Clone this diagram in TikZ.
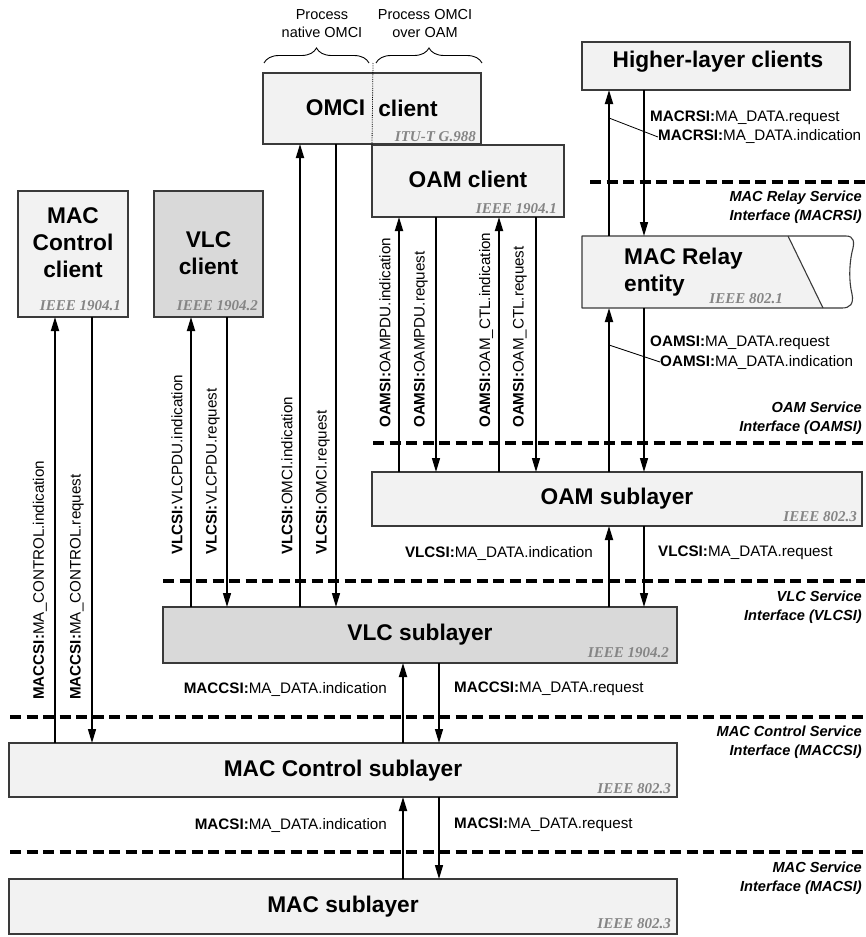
\documentclass[tikz,border=0pt]{standalone}
\usepackage{fontspec}
\setmainfont{Liberation Sans}
\newfontfamily\stdfont{Liberation Serif}
\usetikzlibrary{arrows.meta,decorations.pathreplacing}

\definecolor{boxfill}{HTML}{F2F2F2}
\definecolor{vlcfill}{HTML}{D9D9D9}
\definecolor{edge}{HTML}{3A3A3A}
\definecolor{stdgray}{HTML}{858585}

\tikzset{
  box/.style={draw=edge, line width=1.1pt, fill=boxfill, anchor=north west,
    inner sep=0pt, outer sep=0pt},
  vlcbox/.style={box, fill=vlcfill},
  title/.style={font=\fontsize{22.7pt}{27pt}\selectfont\bfseries, align=center, inner sep=0pt},
  std/.style={font=\stdfont\fontsize{15pt}{18pt}\selectfont\bfseries\itshape,
    text=stdgray, anchor=base east, inner sep=0pt},
  prim/.style={font=\fontsize{15.2pt}{18pt}\selectfont, inner sep=0pt},
  vprim/.style={prim, rotate=90, anchor=west},
  iface/.style={font=\fontsize{14.6pt}{18.5pt}\selectfont\bfseries\itshape,
    align=right, anchor=east, inner sep=0pt},
  note/.style={font=\fontsize{14.5pt}{18pt}\selectfont, align=center, inner sep=0pt},
  sap/.style={line width=4.5pt, dash pattern=on 11pt off 5.5pt},
  ind/.style={line width=1.8pt, -{Triangle[length=14pt,width=8pt]}},
  req/.style={line width=1.4pt, -{Triangle[length=14pt,width=8pt]}},
  leader/.style={line width=0.8pt},
  curly/.style={decorate, decoration={brace, amplitude=15pt}, line width=0.9pt},
}

\begin{document}
\begin{tikzpicture}[x=1pt,y=-1pt]
\useasboundingbox (0,0) rectangle (865,937);
\fill[white] (0,0) rectangle (865,937);

% columns of the vertical primitives
\coordinate (cMCi) at (55,0);
\coordinate (cMCr) at (92,0);
\coordinate (cVi) at (191,0);
\coordinate (cVr) at (227,0);
\coordinate (cOi) at (300,0);
\coordinate (cOr) at (336,0);
\coordinate (cPi) at (399,0);
\coordinate (cPr) at (436,0);
\coordinate (cCi) at (499,0);
\coordinate (cCr) at (536,0);
\coordinate (cHi) at (609,0);
\coordinate (cHr) at (644,0);
\coordinate (cLi) at (403,0);
\coordinate (cLr) at (439,0);

% service interfaces
\draw[sap] (590,182) -- (865,182);
\draw[sap] (373,443) -- (865,443);
\draw[sap] (163,581) -- (865,581);
\draw[sap] (10,717) -- (865,717);
\draw[sap] (10,852) -- (865,852);

\node[iface] (macrsi) at (862,207) {MAC Relay Service\\Interface (MACRSI)};
\node[iface] (oamsi) at (862,418) {OAM Service\\Interface (OAMSI)};
\node[iface] (vlcsi) at (862,607) {VLC Service\\Interface (VLCSI)};
\node[iface] (maccsi) at (862,742) {MAC Control Service\\Interface (MACCSI)};
\node[iface] (macsi) at (862,878) {MAC Service\\Interface (MACSI)};

% OMCI processing options
\node[note] (native) at (322,24) {Process\\native OMCI};
\node[note] (overoam) at (425,24) {Process OMCI\\over OAM};
\draw[curly] (264,63) -- (369,63);
\draw[curly] (376,63) -- (482,63);

% clients
\node[box, minimum width=110pt, minimum height=126pt] (mccl) at (18,191) {};
\node[title] at (73,243) {MAC\\Control\\client};
\node[std] at (121,310) {IEEE 1904.1};

\node[vlcbox, minimum width=109pt, minimum height=126pt] (vlccl) at (154,191) {};
\node[title] at (208.5,253) {VLC\\client};
\node[std] at (258,310) {IEEE 1904.2};

\node[box, minimum width=218pt, minimum height=71pt] (omci) at (263,73) {};
\node[title] at (335.5,108) {OMCI};
\node[title] at (408,108) {client};
\node[std] at (476,141) {ITU-T G.988};

\node[box, minimum width=192pt, minimum height=72pt] (oamcl) at (372,145) {};
\node[title] at (468,179) {OAM client};
\node[std] at (557,213) {IEEE 1904.1};

\draw[densely dotted, line width=0.8pt] (373,63) -- (oamcl.north west);

\node[box, minimum width=268pt, minimum height=48pt] (hlc) at (582,42) {};
\node[title] at (718,62) {Higher-layer clients};

% MAC Relay entity, cut open on its right side
\node[anchor=north west, inner sep=0pt, outer sep=0pt, minimum width=268pt,
  minimum height=72pt] (relay) at (582,236) {};
\fill[boxfill] (582,236) -- (788,236) -- (823,308) -- (582,308) -- cycle;
\draw[edge, line width=1.1pt] (788,236) -- (823,308);
\draw[edge, line width=1.1pt, line join=round]
  (582,236) -- (846,236) .. controls (854,236) and (855,242) .. (852,252)
  .. controls (849,266) and (849,282) .. (852,294)
  .. controls (854,304) and (850,308) .. (842,308) -- (582,308) -- cycle;
\node[title, align=left, anchor=west] at (624,272) {MAC Relay\\entity};
\node[std] at (783,303) {IEEE 802.1};

% sublayers
\node[box, minimum width=490pt, minimum height=54pt] (oamsl) at (372,472) {};
\node[title] at (617,499) {OAM sublayer};
\node[std] at (857,521) {IEEE 802.3};

\node[vlcbox, minimum width=514pt, minimum height=56pt] (vlcsl) at (163,607) {};
\node[title] at (420,635) {VLC sublayer};
\node[std] at (669,657) {IEEE 1904.2};

\node[box, minimum width=668pt, minimum height=54pt] (macctl) at (9,743) {};
\node[title] at (343,771) {MAC Control sublayer};
\node[std] at (671,793) {IEEE 802.3};

\node[box, minimum width=668pt, minimum height=55pt] (mac) at (9,879) {};
\node[title] at (343,907) {MAC sublayer};
\node[std] at (671,928) {IEEE 802.3};

% primitives between clients and sublayers
\draw[ind] (macctl.north -| cMCi) -- (mccl.south -| cMCi);
\draw[req] (mccl.south -| cMCr) -- (macctl.north -| cMCr);
\node[vprim] at (40,700) {\textbf{MACCSI:}MA\_CONTROL.indication};
\node[vprim] at (77,700) {\textbf{MACCSI:}MA\_CONTROL.request};

\draw[ind] (vlcsl.north -| cVi) -- (vlccl.south -| cVi);
\draw[req] (vlccl.south -| cVr) -- (vlcsl.north -| cVr);
\node[vprim] at (177,555) {\textbf{VLCSI:}VLCPDU.indication};
\node[vprim] at (213,555) {\textbf{VLCSI:}VLCPDU.request};

\draw[ind] (vlcsl.north -| cOi) -- (omci.south -| cOi);
\draw[req] (omci.south -| cOr) -- (vlcsl.north -| cOr);
\node[vprim] at (287,555) {\textbf{VLCSI:}OMCI.indication};
\node[vprim] at (323,555) {\textbf{VLCSI:}OMCI.request};

\draw[ind] (oamsl.north -| cPi) -- (oamcl.south -| cPi);
\draw[req] (oamcl.south -| cPr) -- (oamsl.north -| cPr);
\draw[ind] (oamsl.north -| cCi) -- (oamcl.south -| cCi);
\draw[req] (oamcl.south -| cCr) -- (oamsl.north -| cCr);
\node[vprim] at (385,428) {\textbf{OAMSI:}OAMPDU.indication};
\node[vprim] at (421,428) {\textbf{OAMSI:}OAMPDU.request};
\node[vprim] at (486,428) {\textbf{OAMSI:}OAM\_CTL.indication};
\node[vprim] at (520,428) {\textbf{OAMSI:}OAM\_CTL.request};

% relay path
\draw[ind] (relay.north -| cHi) -- (hlc.south -| cHi);
\draw[req] (hlc.south -| cHr) -- (relay.north -| cHr);
\node[prim, anchor=west] (rreq) at (650,118) {\textbf{MACRSI:}MA\_DATA.request};
\node[prim, anchor=west] (rind) at (658,137) {\textbf{MACRSI:}MA\_DATA.indication};
\coordinate (rtap) at (609,118);
\draw[leader] (rtap) -- (rind.west);

\draw[ind] (oamsl.north -| cHi) -- (relay.south -| cHi);
\draw[req] (relay.south -| cHr) -- (oamsl.north -| cHr);
\node[prim, anchor=west] (oreq) at (650,343) {\textbf{OAMSI:}MA\_DATA.request};
\node[prim, anchor=west] (oind) at (660,362) {\textbf{OAMSI:}MA\_DATA.indication};
\coordinate (otap) at (609,345);
\draw[leader] (otap) -- (oind.west);

% sublayer stack
\draw[ind] (vlcsl.north -| cHi) -- (oamsl.south -| cHi);
\draw[req] (oamsl.south -| cHr) -- (vlcsl.north -| cHr);
\node[prim, anchor=east] at (593,553) {\textbf{VLCSI:}MA\_DATA.indication};
\node[prim, anchor=west] at (658,553) {\textbf{VLCSI:}MA\_DATA.request};

\draw[ind] (macctl.north -| cLi) -- (vlcsl.south -| cLi);
\draw[req] (vlcsl.south -| cLr) -- (macctl.north -| cLr);
\node[prim, anchor=east] at (387,689) {\textbf{MACCSI:}MA\_DATA.indication};
\node[prim, anchor=west] at (454,689) {\textbf{MACCSI:}MA\_DATA.request};

\draw[ind] (mac.north -| cLi) -- (macctl.south -| cLi);
\draw[req] (macctl.south -| cLr) -- (mac.north -| cLr);
\node[prim, anchor=east] at (387,825) {\textbf{MACSI:}MA\_DATA.indication};
\node[prim, anchor=west] at (454,825) {\textbf{MACSI:}MA\_DATA.request};
\end{tikzpicture}
\end{document}
